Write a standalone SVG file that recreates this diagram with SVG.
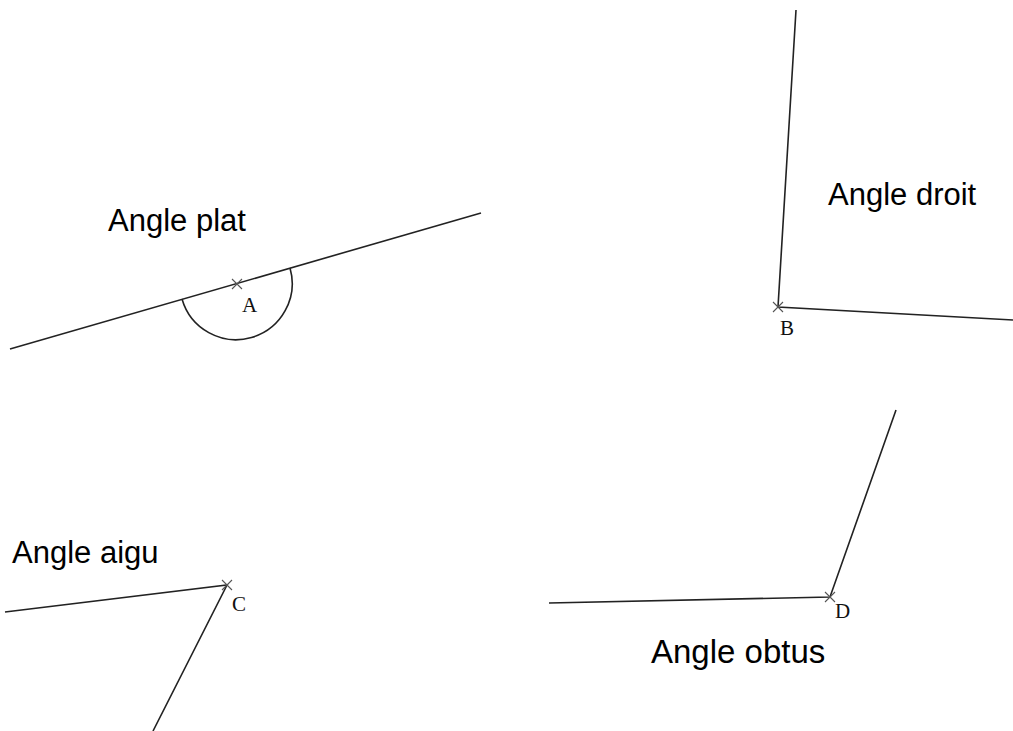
<svg xmlns="http://www.w3.org/2000/svg" width="1013" height="731" viewBox="0 0 1013 731">
<style>
.ln{stroke:#222;stroke-width:1.6;fill:none}
.x{stroke:#555;stroke-width:1.1;fill:none}
.t{font-family:"Liberation Sans",Arial,sans-serif;font-size:31px;fill:#000}
.p{font-family:"Liberation Serif","Times New Roman",serif;font-size:21px;fill:#111}
</style>
<rect width="1013" height="731" fill="#fff"/>
<g id="plat">
<path class="ln" d="M10 349 L481 213"/>
<path class="ln" d="M182 299 A56 56 0 0 0 290 268"/>
<path class="x" d="M232 279 L242 289 M232 289 L242 279"/>
<text class="p" x="242" y="312">A</text>
<text class="t" x="108" y="231">Angle plat</text>
</g>
<g id="droit">
<path class="ln" d="M796 10 L778 307 L1013 320"/>
<path class="x" d="M773 302 L783 312 M773 312 L783 302"/>
<text class="p" x="780" y="335">B</text>
<text class="t" x="828" y="205">Angle droit</text>
</g>
<g id="aigu">
<path class="ln" d="M5 612 L227 585 L153 731"/>
<path class="x" d="M222 580 L232 590 M222 590 L232 580"/>
<text class="p" x="232" y="611">C</text>
<text class="t" x="12" y="563">Angle aigu</text>
</g>
<g id="obtus">
<path class="ln" d="M549 603 L830 597 L896 410"/>
<path class="x" d="M825 592 L835 602 M825 602 L835 592"/>
<text class="p" x="835" y="618">D</text>
<text class="t" x="651" y="663" style="font-size:33px">Angle obtus</text>
</g>
</svg>
